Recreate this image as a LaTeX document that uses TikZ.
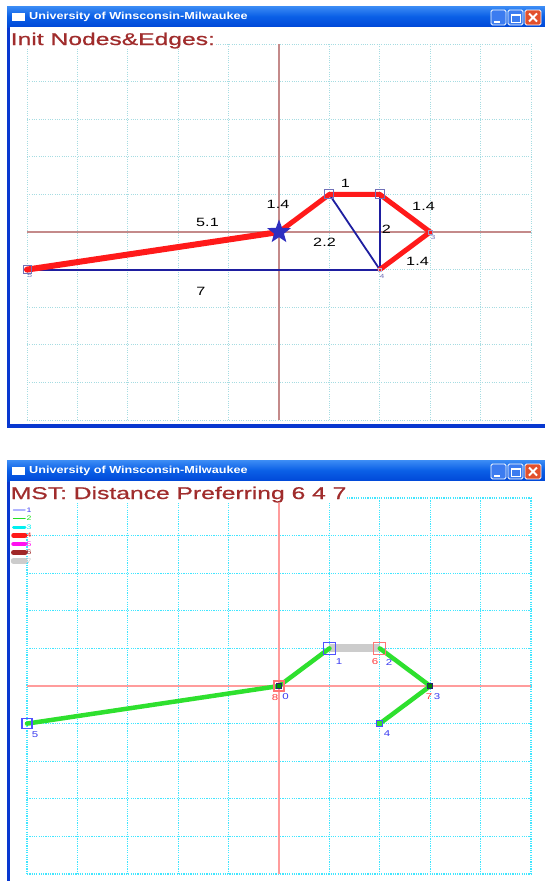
\documentclass[tikz,border=0pt]{standalone}
\usepackage{fontspec}
\setmainfont{Liberation Sans}
\newfontfamily\wintitlefont[FakeStretch=1.24]{Liberation Sans}
\newfontfamily\bigtitlefont[FakeStretch=1.45,FakeBold=0.8]{Liberation Sans}
\newfontfamily\edgelblfont[FakeStretch=1.35]{Liberation Sans}
\usetikzlibrary{shapes.geometric}

\definecolor{tbtop}{HTML}{3D8DF5}
\definecolor{tbmid}{HTML}{0A5FE6}
\definecolor{tbbot}{HTML}{0048D8}
\definecolor{frameblue}{HTML}{0838D0}
\definecolor{btnblue}{HTML}{3C7CF0}
\definecolor{btnred}{HTML}{E2502C}
\definecolor{titlered}{HTML}{A02C2C}
\definecolor{gridtop}{HTML}{A6DCE2}
\definecolor{gridbot}{HTML}{40E6FF}
\definecolor{axistop}{HTML}{C48A8A}
\definecolor{axisbot}{HTML}{FF9C9C}
\definecolor{edgered}{HTML}{FF1A1A}
\definecolor{edgeblue}{HTML}{1E1EA0}
\definecolor{starblue}{HTML}{2E2EC0}
\definecolor{nodegray}{HTML}{7070B8}
\definecolor{mstgreen}{HTML}{2EE02E}
\definecolor{bandgray}{HTML}{CCCCCC}
\definecolor{lblblue}{HTML}{3A3AF0}
\definecolor{lblred}{HTML}{FF3A3A}
\definecolor{sqblue}{HTML}{5050FF}
\definecolor{sqpink}{HTML}{FF7474}
\definecolor{sqdark}{HTML}{262670}
\definecolor{lg1}{HTML}{B0B4FF}
\definecolor{lg2}{HTML}{22E022}
\definecolor{lg3}{HTML}{00F0F0}
\definecolor{lg4}{HTML}{FF1A1A}
\definecolor{lg5}{HTML}{FF10F0}
\definecolor{lg6}{HTML}{A02828}
\definecolor{lg7}{HTML}{CCCCCC}

\pgfdeclarelayer{back}
\pgfdeclarelayer{edges}
\pgfsetlayers{back,edges,main}

\newcommand\uwmframe[1]{%
  \fill[frameblue] (7,6) rectangle (560,#1);
  \shade[top color=tbtop, bottom color=tbbot, middle color=tbmid] (7,6) rectangle (560,27);
  \fill[white] (10,27) rectangle (556,{#1-4});
  \fill[white] (12,13) rectangle (25,21);
  \node[wintitle, anchor=west] at (29,17) {University of Winsconsin-Milwaukee};
  \draw[white, line width=0.8, fill=btnblue, rounded corners=1.5] (491,10) rectangle (506,25);
  \draw[white, line width=2] (494,21.5) -- (499.5,21.5);
  \draw[white, line width=0.8, fill=btnblue, rounded corners=1.5] (508,10) rectangle (523,25);
  \draw[white, line width=0.9] (511,14) rectangle (520,22);
  \draw[white, line width=2] (511,14.5) -- (520,14.5);
  \draw[white, line width=0.8, fill=btnred, rounded corners=1.5] (525,10) rectangle (541,25);
  \draw[white, line width=1.8] (529,13.5) -- (537,21.5) (537,13.5) -- (529,21.5);
}
\newcommand\uwmgrid[2]{%
  \foreach \i in {0,...,10} \draw[#1] ({27+50.4*\i},44) -- ({27+50.4*\i},420);
  \foreach \j in {0,...,10} \draw[#1] (27,{44+37.6*\j}) -- (531,{44+37.6*\j});
  \draw[#2] (279,44) -- (279,420);
  \draw[#2] (27,232) -- (531,232);
}

\begin{document}
\begin{tikzpicture}[x=1pt,y=-1pt,
  wintitle/.style={text=white, inner sep=0pt, font=\wintitlefont\bfseries\fontsize{10.2}{12}\selectfont},
  bigtitle/.style={text=titlered, fill=white, inner sep=0.6pt, anchor=base west, font=\bigtitlefont\fontsize{17}{20}\selectfont},
  gridA/.style={gridtop, line width=0.9pt, dash pattern=on 1pt off 1.3pt},
  gridB/.style={gridbot, line width=1.2pt, dash pattern=on 1.2pt off 1.1pt},
  axisA/.style={axistop, line width=1.1pt},
  axisB/.style={axisbot, line width=2pt},
  sq/.style={rectangle, inner sep=0pt, minimum size=#1},
  rededge/.style={edgered, line width=5pt, line cap=round, line join=round},
  blueedge/.style={edgeblue, line width=1.8pt},
  mst/.style={mstgreen, line width=4.5pt, line cap=round, line join=round},
  band/.style={bandgray, line width=8pt},
  elbl/.style={inner sep=0pt, font=\edgelblfont\fontsize{12}{14}\selectfont},
  nlbl/.style={inner sep=0pt, text=nodegray, font=\edgelblfont\fontsize{6}{7}\selectfont},
  blbl/.style={inner sep=0pt, font=\edgelblfont\fontsize{8.5}{10}\selectfont},
  lgl/.style={inner sep=0pt, font=\edgelblfont\fontsize{6.5}{7}\selectfont}]
\useasboundingbox (0,0) rectangle (545,881);
\begin{pgfonlayer}{back}
  \fill[white] (0,0) rectangle (545,881);
\end{pgfonlayer}

% ---------------- top window ----------------
\begin{pgfonlayer}{back}
  \uwmframe{428}
  \uwmgrid{gridA}{axisA}
  \node[bigtitle] (ttitle) at (10,45) {Init Nodes\&Edges:};
\end{pgfonlayer}

\node[sq=8, draw=nodegray, line width=0.9pt] (t5) at (27,269.6) {};
\node[star, star points=5, star point ratio=2.4, fill=starblue, minimum size=25pt, inner sep=0pt] (t0) at (279,232) {};
\node[sq=9, draw=nodegray, line width=0.9pt] (t1) at (329.4,194.4) {};
\node[sq=9, draw=nodegray, line width=0.9pt] (t2) at (379.8,194.4) {};
\node[sq=4, draw=nodegray!70, line width=0.7pt] (t3) at (430.2,232) {};
\node[sq=3, draw=nodegray!50, line width=0.6pt] (t4) at (379.8,269.6) {};

\begin{pgfonlayer}{edges}
  \draw[blueedge] (t5.center) -- (t4.center);
  \draw[blueedge] (t1.center) -- (t4.center);
  \draw[blueedge] (t2.center) -- (t4.center);
  \draw[rededge, line width=6pt] (t5.center) -- (t0.center);
  \draw[rededge] (t0.center) -- (t1.center) -- (t2.center) -- (t3.center) -- (t4.center);
\end{pgfonlayer}

\node[elbl] (l50) at (207.5,222) {5.1};
\node[elbl] (l01) at (278,204) {1.4};
\node[elbl] (l12) at (345.5,183.5) {1};
\node[elbl] (l23) at (423.5,206) {1.4};
\node[elbl] (l24) at (386.5,229) {2};
\node[elbl] (l14) at (324.5,242.5) {2.2};
\node[elbl] (l34) at (417.5,261) {1.4};
\node[elbl] (l54) at (201,291) {7};
\node[nlbl] (t5l) at (30,275.5) {5};
\node[nlbl] (t3l) at (433,237.5) {3};
\node[nlbl] (t4l) at (382,276) {4};

% ---------------- bottom window ----------------
\begin{scope}[yshift=-454pt]
\begin{pgfonlayer}{back}
  \uwmframe{460}
  \uwmgrid{gridB}{axisB}
  \node[bigtitle] (btitle) at (10,45) {MST: Distance Preferring 6 4 7};
  \fill[white] (20,47) rectangle (32,79);
\end{pgfonlayer}

\foreach \k/\c/\d/\w in {1/lg1/lblblue/1.5, 2/lg2/lg2/1.5, 3/lg3/lg3/3, 4/lg4/lg4/4.5, 5/lg5/lg5/4.5, 6/lg6/lg6/5, 7/lg7/lg7/5.5} {
  \draw[\c, line width=\w pt, line cap=round] (13.5,{47.5+8.5*\k}) -- (25,{47.5+8.5*\k});
  \node[lgl, text=\d] (lg\k) at (29,{47.5+8.5*\k}) {\k};
}

\node[sq=10, draw=sqblue, line width=1.2pt] (b5) at (27,269.6) {};
\node[sq=10, draw=sqpink, line width=1.2pt] (b8) at (279,232) {};
\node[sq=5, draw=sqdark, fill=green!60!black, line width=1pt] (b0) at (279,232) {};
\node[sq=12, draw=sqblue, line width=1.2pt] (b1) at (329.4,194.4) {};
\node[sq=12, draw=sqpink, line width=1.2pt] (b2) at (379.8,194.4) {};
\node[sq=5, draw=sqdark, fill=green!50!black, line width=1pt] (b3) at (430.2,232) {};
\node[sq=6, draw=sqblue, fill=mstgreen, line width=1pt] (b4) at (379.8,269.6) {};

\begin{pgfonlayer}{edges}
  \draw[band] (b1.center) -- (b2.center);
  \draw[mst] (b5.center) -- (b0.center) -- (b1.center);
  \draw[mst] (b2.center) -- (b3.center) -- (b4.center);
\end{pgfonlayer}

\node[blbl, text=lblred] (b8l) at (275,244) {8};
\node[blbl, text=lblblue] (b0l) at (285.5,242.5) {0};
\node[blbl, text=lblblue] (b1l) at (339,208) {1};
\node[blbl, text=lblred] (b6l) at (375,208) {6};
\node[blbl, text=lblblue] (b2l) at (389,208.5) {2};
\node[blbl, text=lblred] (b7l) at (429,242.5) {7};
\node[blbl, text=lblblue] (b3l) at (437,242.5) {3};
\node[blbl, text=lblblue] (b4l) at (387,280) {4};
\node[blbl, text=lblblue] (b5l) at (35,281) {5};
\end{scope}
\end{tikzpicture}
\end{document}
